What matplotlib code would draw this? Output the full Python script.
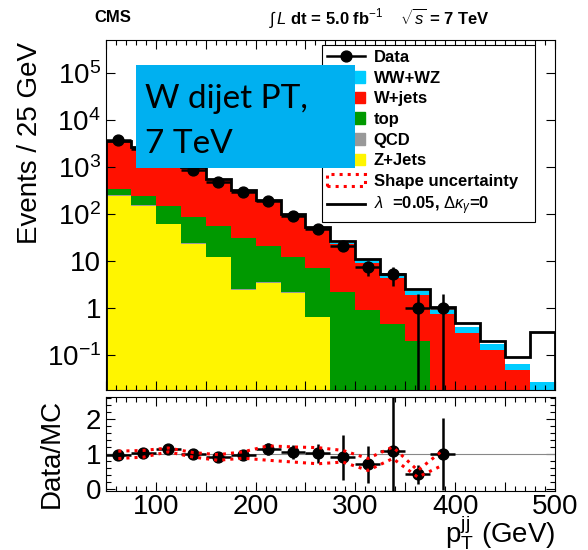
"""W dijet pT spectrum at 7 TeV with data/MC ratio."""

import numpy
import matplotlib
matplotlib.use('Agg')
from matplotlib import pyplot
from matplotlib.lines import Line2D
from matplotlib.patches import Patch, Rectangle
from matplotlib.ticker import MultipleLocator, LogLocator, FixedLocator, NullFormatter, FuncFormatter

# Binning (GeV).
edges = numpy.arange(50, 501, 25)
centers = 0.5 * (edges[:-1] + edges[1:])

# MC components per bin (events / 25 GeV).
zjets = [245, 148, 60, 23, 12, 2.4, 3.4, 2.1, 0.63, 0, 0, 0, 0, 0, 0, 0, 0, 0]
qcd = [8, 5, 2, 0.8, 0.4, 0.1, 0.1, 0.07, 0.02, 0, 0, 0, 0, 0, 0, 0, 0, 0]
top = [82, 87, 86, 64, 42, 28.5, 17.5, 9.8, 6.5, 2.2, 0.9, 0.45, 0.2,
       0, 0, 0, 0, 0]
wjets = [3125, 2260, 1350, 847, 476, 281, 168, 83, 43, 21, 8.0, 3.85, 1.7,
         0.74, 0.30, 0.13, 0.048, 0.015]
wwwz = [100, 75, 50, 30, 18, 11, 7, 4, 2.5, 1.5, 1.6, 0.7, 0.4, 0.17, 0.10,
        0.04, 0.016, 0.012]
# SM + anomalous coupling prediction (lambda = 0.05).
atgc = [3650, 2650, 1600, 980, 560, 330, 200, 100, 53, 26, 11, 5.3, 2.5,
        1.05, 0.48, 0.20, 0.091, 0.31]

# Data (first 14 bins).
data = [3750, 2450, 1700, 870, 480, 295, 190, 91, 48, 21, 7.4, 5.3, 1, 1]

# Ratio panel.
ratio = [0.97, 1.03, 1.14, 1.0, 0.91, 0.97, 1.14, 1.06, 1.03, 0.91, 0.71,
         1.09, 0.43, 1.0]
ratio_err = [0.03, 0.04, 0.05, 0.06, 0.07, 0.09, 0.17, 0.2, 0.27, 0.63,
             0.53, 1.8, 0.27, 1.03]
shape_up = [1.09, 1.11, 1.18, 1.05, 0.99, 1.07, 1.24, 1.21, 1.19, 1.11,
            0.88, 1.21, 0.54, 1.11]
shape_down = [0.88, 0.92, 1.07, 0.92, 0.83, 0.89, 0.83, 0.78, 0.73, 0.78,
              0.54, 0.88, 0.35, 0.69]

log_ticks = [1e-1, 1, 10, 1e2, 1e3, 1e4, 1e5]
log_labels = [r'$\mathregular{10^{-1}}$', '1', '10', r'$\mathregular{10^{2}}$',
              r'$\mathregular{10^{3}}$', r'$\mathregular{10^{4}}$',
              r'$\mathregular{10^{5}}$']

colors = {'WW+WZ': '#00CCFF', 'W+jets': '#FF1100', 'top': '#009900',
          'QCD': '#999999', 'Z+Jets': '#FFF500'}

pyplot.rc('font', family='Liberation Sans', size=20)
pyplot.rc('mathtext', fontset='custom', rm='Liberation Sans',
          it='Liberation Sans:italic', bf='Liberation Sans:bold')

W, H = 588, 550
fig = pyplot.figure(figsize=(5.88, 5.5), dpi=100)
ax = fig.add_axes([0.180, 0.291, 0.764, 0.636])
rax = fig.add_axes([0.180, 0.107, 0.764, 0.171])

# Stacked histograms, drawn as overlaid cumulative sums.
layers = [('Z+Jets', zjets), ('QCD', qcd), ('top', top), ('W+jets', wjets),
          ('WW+WZ', wwwz)]
cums = numpy.cumsum([vals for _, vals in layers], axis=0)
floor = 1e-4
for (name, _), cum in reversed(list(zip(layers, cums))):
    ax.stairs(numpy.maximum(cum, floor), edges, baseline=floor, fill=True,
              color=colors[name], lw=0)
ax.stairs(atgc, edges, color='black', lw=2.0)

data = numpy.array(data)
nd = len(data)
ax.errorbar(centers[:nd], data, xerr=12.5, yerr=numpy.sqrt(data), fmt='o',
            color='black', ms=7.8, lw=1.8, capsize=0, zorder=5)

ax.set_yscale('log')
ax.set_xlim(50, 500)
ax.set_ylim(0.018, 5.0e5)
ax.yaxis.set_major_locator(FixedLocator(log_ticks))
ax.set_yticklabels(log_labels)
ax.yaxis.set_minor_locator(LogLocator(base=10, subs=numpy.arange(2, 10)))
ax.yaxis.set_minor_formatter(NullFormatter())

# Legend.
handles = [Line2D([], [], color='black', marker='o', ms=7.8, lw=1.8)]
labels = ['Data']
for name in ['WW+WZ', 'W+jets', 'top', 'QCD', 'Z+Jets']:
    handles.append(Patch(facecolor=colors[name], edgecolor=colors[name]))
    labels.append(name)
handles.append(Patch(facecolor='white', edgecolor='red', ls=':', lw=2.2))
labels.append('Shape uncertainty')
handles.append(Line2D([], [], color='black', lw=2.0))
labels.append(r'$\lambda$  =0.05, $\Delta\kappa_{\gamma}$=0')
leg = ax.legend(handles, labels, loc='upper left',
                bbox_to_anchor=(0.481, 0.5, 0.474, 0.486), mode='expand',
                fancybox=False, edgecolor='black', framealpha=1,
                prop=dict(weight='bold', size=12), handlelength=2.3,
                handletextpad=0.5, labelspacing=0.34, borderpad=0.3,
                borderaxespad=0)
leg.get_frame().set_linewidth(0.8)

# Ratio panel.
rax.axhline(1.0, color='#888888', lw=0.8)
rax.errorbar(centers[:nd], ratio, xerr=12.5, yerr=ratio_err, fmt='o',
             color='black', ms=7.8, lw=1.8, capsize=0, zorder=4)
rax.plot(centers[:nd], shape_up, color='red', ls=':', lw=2.2, zorder=5)
rax.plot(centers[:nd], shape_down, color='red', ls=':', lw=2.2, zorder=5)
rax.set_xlim(50, 500)
rax.set_ylim(-0.05, 2.63)
rax.yaxis.set_major_locator(FixedLocator([0, 1, 2]))
rax.yaxis.set_minor_locator(MultipleLocator(0.2))

for a in (ax, rax):
    a.xaxis.set_major_locator(MultipleLocator(50))
    a.xaxis.set_minor_locator(MultipleLocator(10))
    a.tick_params(which='both', direction='in', top=True, right=True,
                  width=0.8, labelsize=20)
    a.tick_params(which='major', length=6.5)
    a.tick_params(which='minor', length=3.4)
    for spine in a.spines.values():
        spine.set_linewidth(0.8)
ax.tick_params(labelbottom=False)
rax.tick_params(axis='x', pad=2)
rax.xaxis.set_major_formatter(
    FuncFormatter(lambda v, pos: f'{v:.0f}' if v % 100 == 0 else ''))

# Axis titles and header.
fig.text(30 / W, 1 - 143 / H, 'Events / 25 GeV', rotation=90,
         ha='center', va='center', size=20)
fig.text(52 / W, 1 - 453 / H, 'Data/MC', rotation=90, ha='center',
         va='center', size=20)
fig.text(555 / W, 1 - 533 / H, r'$\mathregular{p_{T}^{jj}}$ (GeV)',
         ha='right', va='center', size=20)
fig.text(113 / W, 1 - 18 / H, 'CMS', ha='center', va='center', size=12,
         weight='bold')
fig.text(490 / W, 1 - 18 / H,
         r'$\int\,\mathit{L}$ dt = 5.0 fb$^{-1}$    $\sqrt{s}$ = 7 TeV',
         ha='right', va='center', size=12, weight='bold')

# Overlay text box.
fig.add_artist(Rectangle((136 / W, 1 - 168 / H), 219 / W, 103 / H,
                         transform=fig.transFigure, facecolor='#00B0F0',
                         edgecolor='none', zorder=10))
fig.text(145 / W, 1 - 108 / H, 'W dijet PT,', ha='left', va='baseline',
         size=24, family='Lato', zorder=11)
fig.text(145 / W, 1 - 153 / H, '7 TeV', ha='left', va='baseline',
         size=24, family='Lato', zorder=11)

fig.savefig('out.png', dpi=100)
